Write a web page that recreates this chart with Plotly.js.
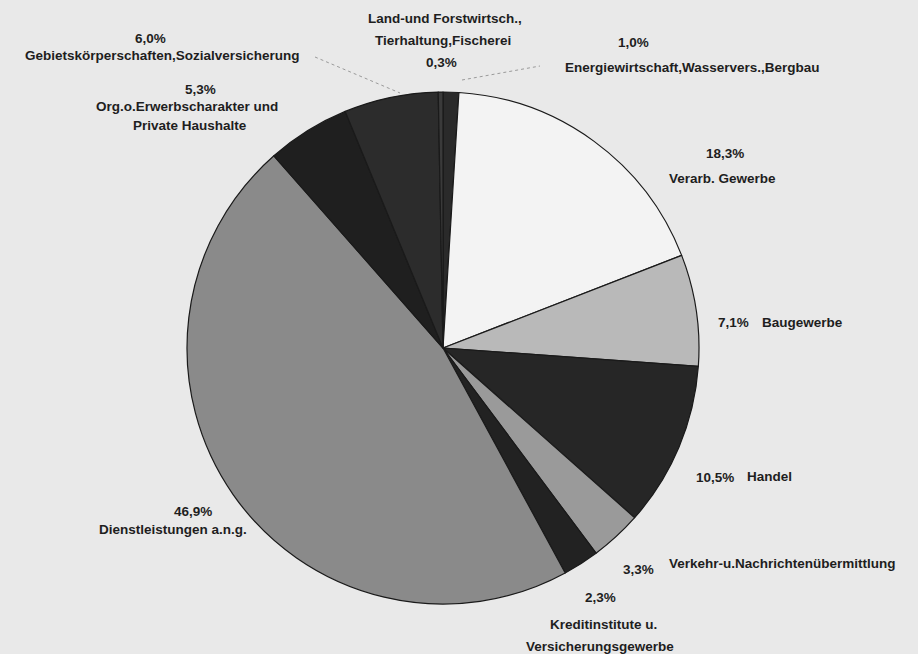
<!DOCTYPE html>
<html>
<head>
<meta charset="utf-8">
<script src="https://cdn.plot.ly/plotly-3.0.1.min.js"></script>
<style>html,body{margin:0;padding:0;background:#e9e9e9;}#chart{width:918px;height:654px;}</style>
</head>
<body>
<div id="chart"></div>
<script>
// Data (clockwise from 12 o'clock)
const sectors = [
  "Energiewirtschaft,Wasservers.,Bergbau",
  "Verarb. Gewerbe",
  "Baugewerbe",
  "Handel",
  "Verkehr-u.Nachrichtenübermittlung",
  "Kreditinstitute u. Versicherungsgewerbe",
  "Dienstleistungen a.n.g.",
  "Org.o.Erwerbscharakter und Private Haushalte",
  "Gebietskörperschaften,Sozialversicherung",
  "Land-und Forstwirtsch., Tierhaltung,Fischerei"
];
const shares = [1.0, 18.3, 7.1, 10.5, 3.3, 2.3, 46.9, 5.3, 6.0, 0.3];
const shareLabels = ["1,0%", "18,3%", "7,1%", "10,5%", "3,3%", "2,3%", "46,9%", "5,3%", "6,0%", "0,3%"];
const sliceColors = ["#2a2a2a", "#f3f3f3", "#b9b9b9", "#262626", "#9a9a9a", "#222222", "#8a8a8a", "#1f1f1f", "#2c2c2c", "#3a3a3a"];

const W = 918, H = 654;
const px = (x, y) => ({x: x / W, y: 1 - y / H, xref: "paper", yref: "paper"});
const font = {family: "Liberation Sans, Arial, sans-serif", size: 13.5, weight: "bold", color: "#1e1e1e"};

function ann(text, x, y, anchor) {
  return Object.assign(px(x, y), {text: text, showarrow: false, xanchor: anchor || "center", yanchor: "middle", font: font});
}

const annotations = [
  ann(shareLabels[8], 150, 38),
  ann(sectors[8], 162, 55),
  ann(shareLabels[7], 200, 89),
  ann("Org.o.Erwerbscharakter und", 187, 106),
  ann("Private Haushalte", 190, 126),
  ann("Land-und Forstwirtsch.,", 445, 18),
  ann("Tierhaltung,Fischerei", 443, 41),
  ann(shareLabels[9], 441, 62),
  ann(shareLabels[0], 633, 42),
  ann(sectors[0], 692, 68),
  ann(shareLabels[1], 725, 153),
  ann(sectors[1], 722, 178),
  ann(shareLabels[2], 716, 322, "left"),
  ann(sectors[2], 760, 322, "left"),
  ann(shareLabels[3], 694, 477, "left"),
  ann(sectors[3], 745, 476, "left"),
  ann(shareLabels[4], 621, 569, "left"),
  ann(sectors[4], 667, 563, "left"),
  ann(shareLabels[5], 583, 597, "left"),
  ann("Kreditinstitute u.", 603, 624),
  ann("Versicherungsgewerbe", 600, 646),
  ann(shareLabels[6], 193, 511),
  ann(sectors[6], 173, 529)
];

const lineStyle = {color: "#9a9a9a", width: 1, dash: "dot"};
const shapes = [
  {type: "line", xref: "paper", yref: "paper", x0: 315/W, y0: 1-57/H, x1: 400/W, y1: 1-93/H, line: lineStyle},
  {type: "line", xref: "paper", yref: "paper", x0: 462/W, y0: 1-80/H, x1: 540/W, y1: 1-66/H, line: lineStyle}
];

const trace = {
  type: "pie",
  labels: sectors,
  values: shares,
  sort: false,
  direction: "clockwise",
  rotation: 0,
  textinfo: "none",
  hoverinfo: "label+percent",
  marker: {colors: sliceColors, line: {color: "#1a1a1a", width: 1.2}},
  domain: {x: [187/W, 699/W], y: [1-604/H, 1-92/H]},
  showlegend: false
};

const layout = {
  width: W, height: H,
  margin: {l: 0, r: 0, t: 0, b: 0},
  paper_bgcolor: "#e9e9e9",
  plot_bgcolor: "#e9e9e9",
  showlegend: false,
  annotations: annotations,
  shapes: shapes
};

Plotly.newPlot("chart", [trace], layout, {displayModeBar: false, staticPlot: true});
</script>
</body>
</html>
